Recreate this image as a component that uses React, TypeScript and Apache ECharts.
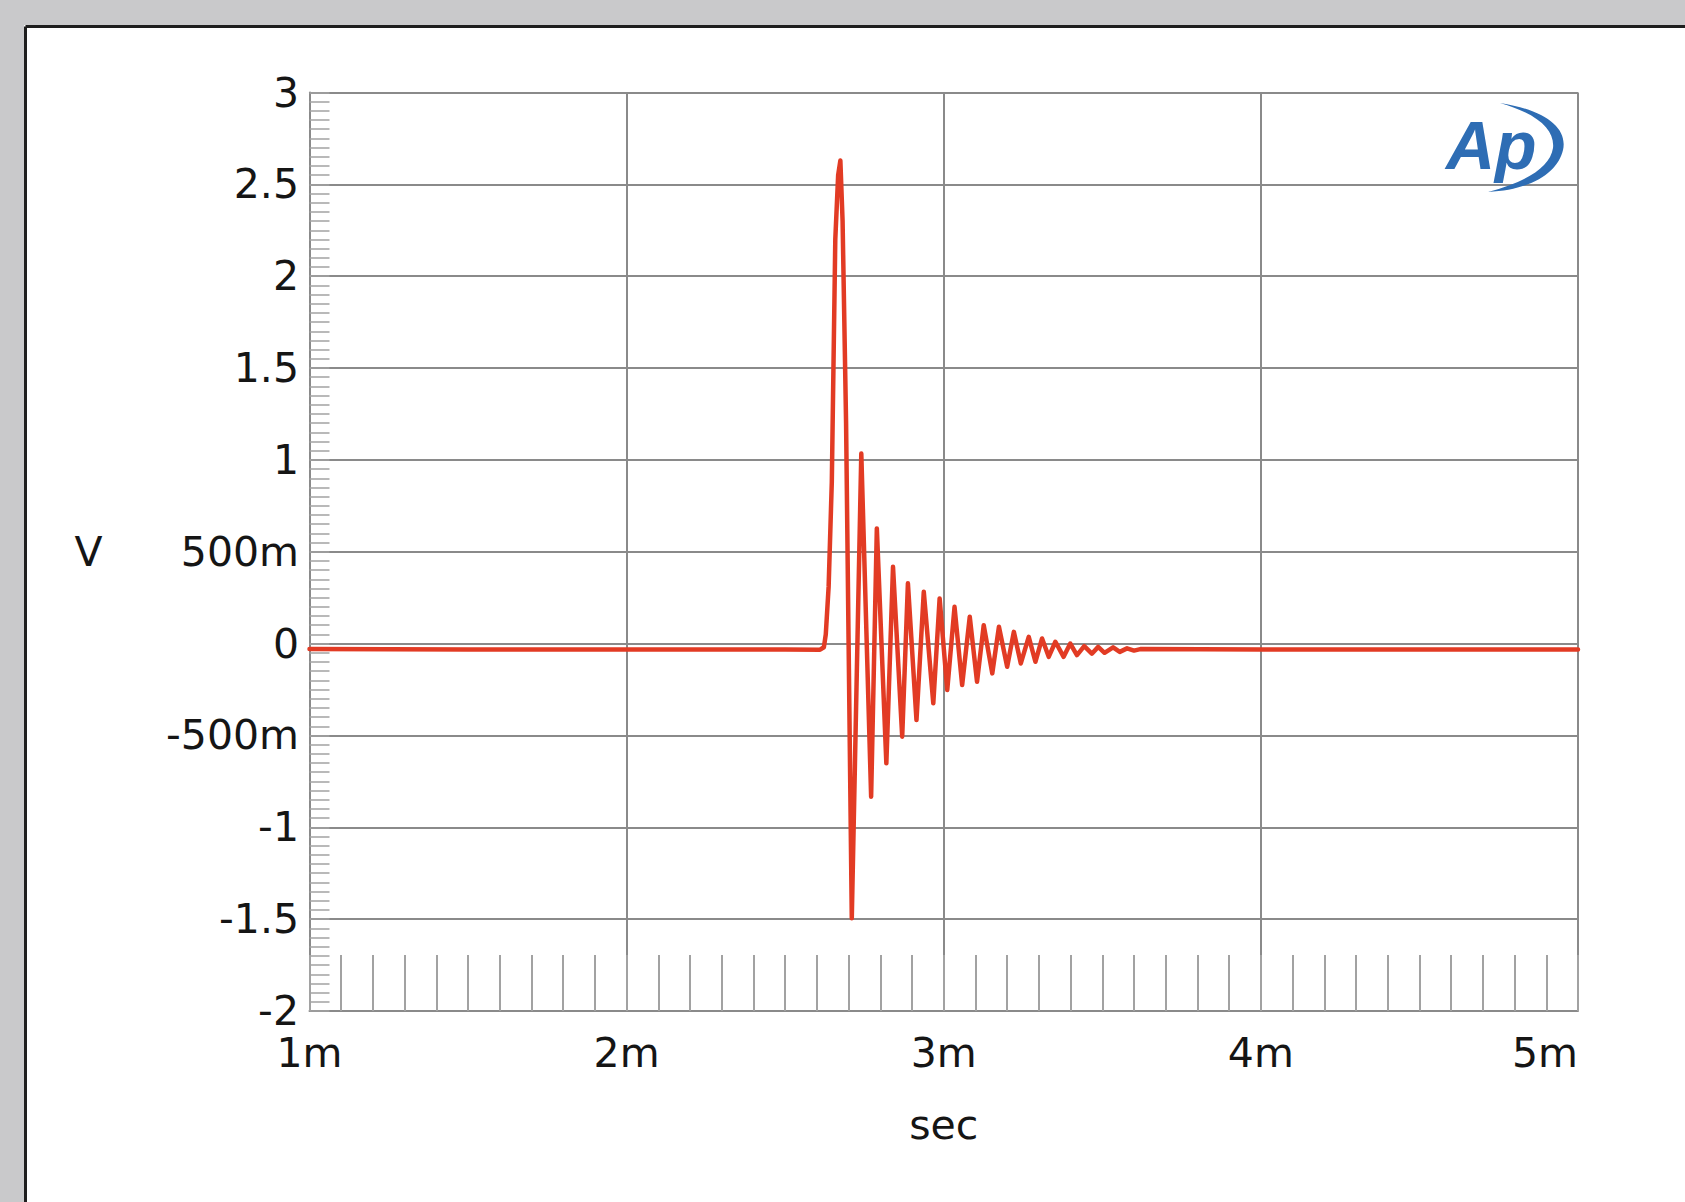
import React, { useEffect, useRef } from "react";
import * as echarts from "echarts";

// Impulse response: time in ms, amplitude in volts
const timeMs = [
  1.0, 1.5, 2.0, 2.5, 2.61, 2.622, 2.628, 2.637, 2.647, 2.658, 2.667, 2.674,
  2.681, 2.692, 2.7, 2.71, 2.74, 2.771, 2.789, 2.819, 2.84, 2.869, 2.887,
  2.914, 2.937, 2.967, 2.987, 3.011, 3.034, 3.058, 3.082, 3.105, 3.126, 3.153,
  3.174, 3.2, 3.221, 3.243, 3.268, 3.289, 3.31, 3.331, 3.352, 3.378, 3.399,
  3.42, 3.443, 3.467, 3.487, 3.507, 3.534, 3.555, 3.578, 3.6, 3.62, 4.0, 4.5, 5.0,
];
const volts = [
  -0.03, -0.032, -0.032, -0.032, -0.033, -0.02, 0.05, 0.31, 0.88, 2.2, 2.55,
  2.63, 2.3, 1.2, 0.0, -1.495, 1.035, -0.834, 0.627, -0.652, 0.418, -0.507,
  0.328, -0.416, 0.282, -0.325, 0.246, -0.253, 0.2, -0.226, 0.146, -0.208,
  0.1, -0.162, 0.092, -0.126, 0.064, -0.108, 0.037, -0.099, 0.028, -0.072,
  0.01, -0.072, 0.0, -0.063, -0.014, -0.055, -0.018, -0.05, -0.02, -0.045,
  -0.026, -0.038, -0.03, -0.032, -0.032, -0.032,
];

const xTickValues = [1, 2, 3, 4, 5];
const xTickLabels = ["1m", "2m", "3m", "4m", "5m"];
const yTickValues = [3, 2.5, 2, 1.5, 1, 0.5, 0, -0.5, -1, -1.5, -2];
const yTickLabels = ["3", "2.5", "2", "1.5", "1", "500m", "0", "-500m", "-1", "-1.5", "-2"];
const xAxisTitle = "sec";
const yAxisTitle = "V";
const logoText = "Ap";

const CRESCENT =
  "M 60 3 C 105 10 128 28 123 50 C 118 72 92 90 48 92 C 85 82 110 68 113 48 C 115 30 98 14 60 3 Z";

let shapeRegistered = false;
function ensureShape() {
  if (!shapeRegistered) {
    echarts.graphic.registerShape("logo", echarts.graphic.extendPath(CRESCENT, {}));
    shapeRegistered = true;
  }
}

function lookup(values: number[], labels: string[], v: number): string {
  for (let i = 0; i < values.length; i++) {
    if (Math.abs(values[i] - v) < 1e-9) return labels[i];
  }
  return "";
}

const FONT = "DejaVu Sans";
const GRID_COLOR = "#8a8a8a";
const TICK_COLOR = "#a2a2a2";
const TEXT_COLOR = "#151515";

export default function App() {
  const ref = useRef<HTMLDivElement>(null);

  useEffect(() => {
    if (!ref.current) return;
    ensureShape();
    const chart = echarts.init(ref.current, undefined, { renderer: "svg" });
    const data = timeMs.map((t, i) => [t, volts[i]]);

    chart.setOption({
      animation: false,
      backgroundColor: "#ffffff",
      grid: { left: 309.5, right: 107, top: 92.5, bottom: 191, containLabel: false },
      xAxis: {
        type: "value",
        min: 1,
        max: 5,
        interval: 1,
        name: xAxisTitle,
        nameLocation: "middle",
        nameGap: 114,
        nameTextStyle: { fontFamily: FONT, fontSize: 41, color: TEXT_COLOR, verticalAlign: "middle" },
        axisLine: { show: true, onZero: false, lineStyle: { color: GRID_COLOR, width: 2 } },
        axisTick: { show: true, inside: true, length: 56, lineStyle: { color: TICK_COLOR, width: 2 } },
        minorTick: { show: true, splitNumber: 10, length: 56, lineStyle: { color: TICK_COLOR, width: 2 } },
        splitLine: { show: true, lineStyle: { color: GRID_COLOR, width: 2 } },
        axisLabel: {
          fontFamily: FONT,
          fontSize: 41,
          color: TEXT_COLOR,
          margin: 42,
          verticalAlign: "middle",
          alignMaxLabel: "right",
          formatter: (v: number) => lookup(xTickValues, xTickLabels, v),
        },
      },
      yAxis: {
        type: "value",
        min: -2,
        max: 3,
        interval: 0.5,
        name: yAxisTitle,
        nameLocation: "middle",
        nameRotate: 0,
        nameGap: 221,
        nameTextStyle: { fontFamily: FONT, fontSize: 41, color: TEXT_COLOR, align: "center", verticalAlign: "middle" },
        axisLine: { show: true, onZero: false, lineStyle: { color: GRID_COLOR, width: 2 } },
        axisTick: { show: true, inside: true, length: 20, lineStyle: { color: TICK_COLOR, width: 1.5 } },
        minorTick: { show: true, splitNumber: 10, length: 20, lineStyle: { color: TICK_COLOR, width: 1.5 } },
        splitLine: { show: true, lineStyle: { color: GRID_COLOR, width: 2 } },
        axisLabel: {
          fontFamily: FONT,
          fontSize: 41,
          color: TEXT_COLOR,
          margin: 10.5,
          formatter: (v: number) => lookup(yTickValues, yTickLabels, v),
        },
      },
      series: [
        {
          type: "line",
          data,
          showSymbol: false,
          symbol: "none",
          lineStyle: { color: "#e23b24", width: 4.5, join: "round", cap: "round" },
          itemStyle: { color: "#e23b24" },
          z: 5,
        },
      ],
      graphic: [
        { type: "rect", shape: { x: 0, y: 0, width: 1685, height: 25 }, style: { fill: "#c9c9cb" }, silent: true },
        { type: "rect", shape: { x: 0, y: 0, width: 24, height: 1202 }, style: { fill: "#c9c9cb" }, silent: true },
        { type: "line", shape: { x1: 25.5, y1: 26.5, x2: 1685, y2: 26.5 }, style: { stroke: "#1e1e1e", lineWidth: 3 }, silent: true },
        { type: "line", shape: { x1: 25.5, y1: 26.5, x2: 25.5, y2: 1202 }, style: { stroke: "#1e1e1e", lineWidth: 3 }, silent: true },
        {
          type: "text",
          x: 1446,
          y: 145,
          z: 10,
          style: {
            text: logoText,
            fill: "#2e6db4",
            font: "italic bold 68px 'Liberation Sans', Arial, sans-serif",
            verticalAlign: "middle",
            align: "left",
          },
          silent: true,
        },
        { type: "logo", x: 1440, y: 100, z: 10, style: { fill: "#2e6db4" }, silent: true },
      ],
    });

    return () => chart.dispose();
  }, []);

  return (
    <div
      ref={ref}
      style={{ position: "absolute", left: 0, top: 0, width: 1685, height: 1202, background: "#ffffff" }}
    />
  );
}
